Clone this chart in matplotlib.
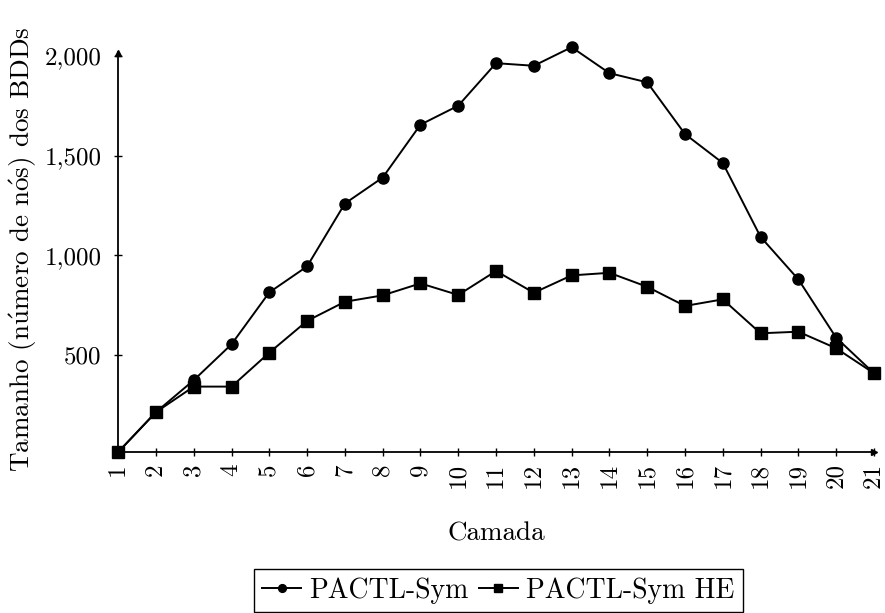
import numpy as np
import matplotlib.pyplot as plt
from matplotlib.ticker import FuncFormatter

plt.rcParams['font.family'] = ['cmr10', 'DejaVu Serif']
plt.rcParams['mathtext.fontset'] = 'cm'
plt.rcParams['axes.formatter.use_mathtext'] = True
plt.rcParams['font.size'] = 16

# Camada (layer) and BDD sizes
camada = list(range(1, 22))
pactl_sym = [15, 215, 375, 555, 815, 945, 1260, 1390, 1655, 1750, 1963,
             1950, 2043, 1913, 1867, 1608, 1463, 1093, 880, 588, 410]
pactl_sym_he = [15, 215, 343, 343, 513, 672, 768, 800, 860, 802, 922,
                813, 900, 913, 843, 747, 780, 610, 618, 535, 410]
y_ticks = [500, 1000, 1500, 2000]

fig = plt.figure(figsize=(8.85, 6.13), dpi=100)
ax = fig.add_axes([0.1335, 0.2625, 0.8540, 0.6605])

ax.plot(camada, pactl_sym, color='black', lw=1.4, marker='o', ms=8,
        label='PACTL-Sym', clip_on=False, zorder=3)
ax.plot(camada, pactl_sym_he, color='black', lw=1.4, marker='s', ms=8,
        label='PACTL-Sym HE', clip_on=False, zorder=3)

ax.set_xlim(1, 21)
ax.set_ylim(15, 2043)
ax.set_xticks(camada)
ax.set_xticklabels([str(c) for c in camada], rotation=90)
ax.set_yticks(y_ticks)
ax.yaxis.set_major_formatter(FuncFormatter(lambda v, p: '{:,.0f}'.format(v)))
ax.tick_params(direction='inout', length=6, width=1, labelsize=18)
ax.tick_params(axis='y', pad=9)
ax.tick_params(axis='x', pad=5)

for s in ['top', 'right']:
    ax.spines[s].set_visible(False)
for s in ['left', 'bottom']:
    ax.spines[s].set_linewidth(1.3)

# arrow heads on the axes
ax.spines['left'].set_bounds(15, 2020)
ax.plot(1, 0, '>k', ms=5, transform=ax.transAxes, clip_on=False)
ax.plot(0, 0.985, '^k', ms=5, transform=ax.transAxes, clip_on=False)

ax.set_xlabel('Camada', labelpad=24, fontsize=19.5)
ax.set_ylabel(r'Tamanho (n$\mathrm{\acute{u}}$mero de n$\mathrm{\acute{o}}$s) dos BDDs',
              labelpad=4, fontsize=19.5)

fig.legend(loc='center', bbox_to_anchor=(0.563, 0.037), ncol=2,
           fancybox=False, edgecolor='black', framealpha=1, fontsize=20,
           handlelength=1.4, handletextpad=0.3, columnspacing=0.35,
           borderpad=0.3, markerscale=0.7)

fig.savefig('out.png', dpi=100)
